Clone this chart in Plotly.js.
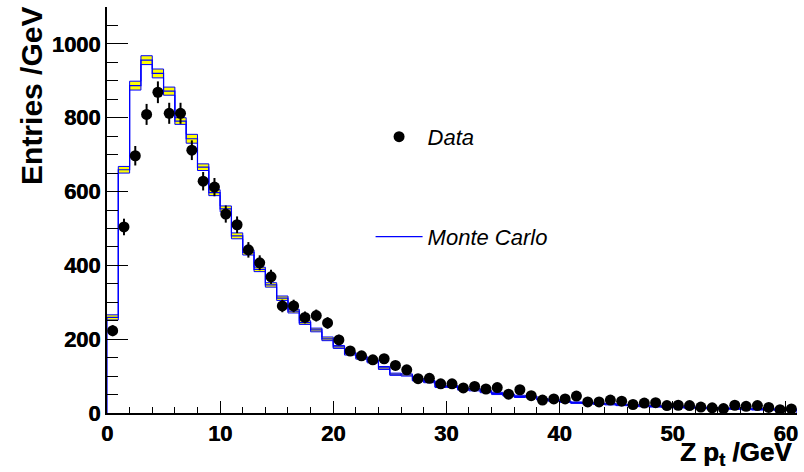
<!DOCTYPE html>
<html>
<head>
<meta charset="utf-8">
<script src="https://cdn.plot.ly/plotly-3.0.1.min.js"></script>
<style>html,body{margin:0;padding:0;background:#fff;}#chart{width:804px;height:472px;}</style>
</head>
<body>
<div id="chart"></div>
<script>
// Bin edges (GeV), 1 GeV wide bins from 0 to 61
const binEdges = [0,1,2,3,4,5,6,7,8,9,10,11,12,13,14,15,16,17,18,19,20,21,22,23,24,25,26,27,28,29,30,
  31,32,33,34,35,36,37,38,39,40,41,42,43,44,45,46,47,48,49,50,51,52,53,54,55,56,57,58,59,60,61];
const binCenters = [0.5,1.5,2.5,3.5,4.5,5.5,6.5,7.5,8.5,9.5,10.5,11.5,12.5,13.5,14.5,15.5,16.5,17.5,18.5,19.5,
  20.5,21.5,22.5,23.5,24.5,25.5,26.5,27.5,28.5,29.5,30.5,31.5,32.5,33.5,34.5,35.5,36.5,37.5,38.5,39.5,
  40.5,41.5,42.5,43.5,44.5,45.5,46.5,47.5,48.5,49.5,50.5,51.5,52.5,53.5,54.5,55.5,56.5,57.5,58.5,59.5,60.5];

// Data entries per bin
const dataCounts = [223,504,697,809,869,812,812,712,628,612,
  539,510,442,407,369,290,290,259,264,244,
  198,168,155,144,147,129,117,93,94,79,
  79,68,72,65,69,51,63,47,35,38,
  38,46,30,30,35,32,23,27,28,20,
  21,20,16,14,12,21,18,20,15,9,11];

// Monte Carlo prediction per bin and its uncertainty
const mcCounts = [259,659,887,956,920,872,791,743,666,597,
  553,480,435,389,347,311,276,245,225,201,
  179,161,150,140,122,105,103,90,85,72,
  72,65,63,58,53,49,45,44,37,34,
  31,28,27,25,24,22,21,19,18,17,
  16,15,14,13,12,12,11,10,10,9,9];
const mcErrors = [7,9,12,12,12,11,9,12,9,8,
  8,8,7,6,6,6,5,5,5,5,
  4,4,4,4,4,3,3,3,3,3,
  3,3,3,3,3,3,3,2,2,2,
  2,2,2,2,2,2,2,2,2,2,
  2,2,2,2,2,2,2,2,2,2,2];

// Tick labels
const xTickVals = [0,10,20,30,40,50,60];
const xTickLabels = ["0","10","20","30","40","50","60"];
const yTickVals = [0,200,400,600,800,1000];
const yTickLabels = ["0","200","400","600","800","1000"];

const legendLabels = ["Data", "Monte Carlo"];
const xTitle = "Z p<sub>t</sub> /GeV";
const yTitle = "Entries /GeV";

// Build step outlines (last value repeated at the upper edge of the last bin)
const stepX = [binEdges[0]].concat(binEdges).concat([binEdges[binEdges.length-1]]);
const stepY = [0].concat(mcCounts).concat([mcCounts[mcCounts.length-1], 0]);
const bandUp = mcCounts.map((v,i)=>v+mcErrors[i]);
const bandLo = mcCounts.map((v,i)=>v-mcErrors[i]);
const bandUpY = bandUp.concat([bandUp[bandUp.length-1]]);
const bandLoY = bandLo.concat([bandLo[bandLo.length-1]]);

const blue = '#0000ff';
const traces = [
  {x: binEdges, y: bandLoY, mode:'lines', line:{shape:'hv', color:blue, width:1}, showlegend:false, hoverinfo:'skip'},
  {x: binEdges, y: bandUpY, mode:'lines', line:{shape:'hv', color:blue, width:1}, fill:'tonexty', fillcolor:'#ffff00', showlegend:false, hoverinfo:'skip'},
  {x: stepX, y: stepY, mode:'lines', line:{shape:'hv', color:blue, width:1.2}, name: legendLabels[1], legend:'legend2'},
  {x: binCenters, y: dataCounts, mode:'markers', name: legendLabels[0],
   marker:{color:'#000', size:11, symbol:'circle'},
   error_y:{type:'sqrt', visible:true, color:'#000', thickness:2, width:0}, legend:'legend'}
];

const fam = 'Liberation Sans, Arial, sans-serif';
const heavy = '0.5px 0px 0px #000';
const tickFont = {family:fam, size:22, weight:700, color:'#000', shadow:heavy};
const legendFont = {family:fam, size:22, style:'italic', color:'#000'};

const layout = {
  width:804, height:472,
  margin:{l:107, r:7, t:7, b:59, pad:0},
  paper_bgcolor:'#fff', plot_bgcolor:'#fff',
  xaxis:{range:[0,61], showgrid:false, zeroline:false, showline:true, linewidth:2, linecolor:'#000',
    ticks:'inside', ticklen:12, tickwidth:1, tickcolor:'#000', tickmode:'array',
    tickvals:xTickVals, ticktext:xTickLabels, tickfont:tickFont,
    minor:{dtick:2, tick0:0, ticks:'inside', ticklen:6, tickwidth:1, tickcolor:'#000', showgrid:false}},
  yaxis:{range:[0,1100], showgrid:false, zeroline:false, showline:true, linewidth:2, linecolor:'#000',
    ticks:'inside', ticklen:21, tickwidth:1, tickcolor:'#000', tickmode:'array',
    tickvals:yTickVals, ticktext:yTickLabels, tickfont:tickFont,
    minor:{dtick:50, tick0:0, ticks:'inside', ticklen:10.5, tickwidth:1, tickcolor:'#000', showgrid:false}},
  xaxis2:{overlaying:'x', side:'top', anchor:'y', range:[0,61], showline:true, linewidth:1, linecolor:'#000',
    showticklabels:false, ticks:'', showgrid:false, zeroline:false},
  yaxis2:{overlaying:'y', side:'right', anchor:'x', range:[0,1100], showline:true, linewidth:1, linecolor:'#000',
    showticklabels:false, ticks:'', showgrid:false, zeroline:false},
  showlegend:true,
  legend:{x:0.382, y:0.680, xanchor:'left', yanchor:'middle', bgcolor:'rgba(0,0,0,0)', borderwidth:0,
    font:legendFont, itemwidth:47},
  legend2:{x:0.382, y:0.434, xanchor:'left', yanchor:'middle', bgcolor:'rgba(0,0,0,0)', borderwidth:0,
    font:legendFont, itemwidth:47},
  annotations:[
    {text:xTitle, xref:'paper', yref:'paper', x:1, y:-0.055, xanchor:'right', yanchor:'top', xshift:-3,
     showarrow:false, font:{family:fam, size:26, weight:700, color:'#000', shadow:heavy}},
    {text:yTitle, xref:'paper', yref:'paper', x:-0.1094, y:0.7797, xanchor:'center', yanchor:'middle', textangle:-90,
     showarrow:false, font:{family:fam, size:30, weight:700, color:'#000'}}
  ]
};

Plotly.newPlot('chart', traces, layout, {staticPlot:true, displayModeBar:false});
</script>
</body>
</html>
